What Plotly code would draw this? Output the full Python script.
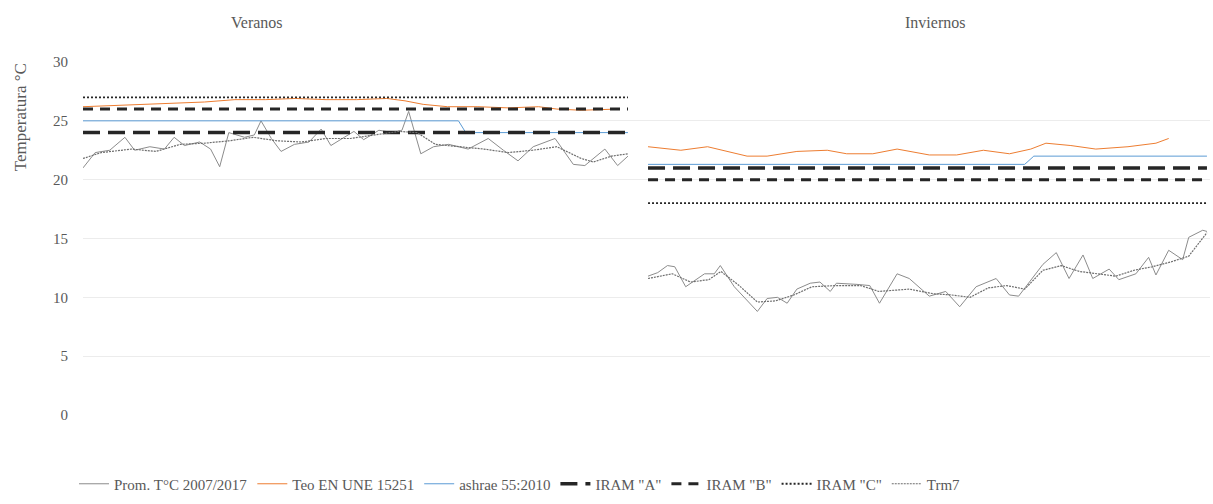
import plotly.graph_objects as go

# Day index along the shared category axis (summer block, then winter block)
summer_prom_days = [0, 2, 4.4, 6.9, 8.5, 11, 13.4, 15, 16.7, 19.2, 21, 22.5, 24, 26.6, 28.2, 29.3,
                    31, 32.6, 34.8, 37.2, 39.2, 40.8, 43, 44.6, 46.2, 48.7, 51.1, 52.5, 53.6, 55.6,
                    57.7, 60.2, 63.4, 66.7, 69.2, 71.6, 74.1, 77.7, 80.7, 82.6, 85.9, 88, 89.7]
summer_prom = [21.0, 22.3, 22.5, 23.6, 22.5, 22.8, 22.6, 23.6, 22.9, 23.2, 22.6, 21.1, 24.0, 23.6,
               23.8, 25.0, 23.5, 22.4, 23.0, 23.2, 24.3, 22.9, 23.6, 24.1, 23.4, 24.2, 24.0, 24.2,
               25.8, 22.2, 22.8, 23.0, 22.6, 23.5, 22.5, 21.6, 22.8, 23.5, 21.3, 21.2, 22.6, 21.2, 22.0]

summer_trm7_days = [0, 3, 8, 12, 16, 20, 24, 28, 32, 36, 40, 44, 48, 52, 55, 58, 62, 66, 70, 74,
                    78, 82, 84, 87, 89.7]
summer_trm7 = [21.8, 22.3, 22.6, 22.4, 23.0, 23.1, 23.3, 23.6, 23.3, 23.2, 23.5, 23.5, 23.8, 24.1,
               24.0, 23.0, 22.8, 22.6, 22.3, 22.5, 22.8, 21.8, 21.5, 22.0, 22.2]

summer_teo_days = [0, 5, 10, 15, 20, 25, 30, 35, 40, 45, 50, 53, 56, 60, 65, 70, 75, 78, 82, 88]
summer_teo = [26.2, 26.3, 26.4, 26.5, 26.6, 26.8, 26.8, 26.9, 26.8, 26.8, 26.9, 26.7, 26.4, 26.2,
              26.2, 26.1, 26.2, 26.0, 25.9, 26.0]

summer_ashrae_days = [0, 61.8, 63, 89.7]
summer_ashrae = [25.0, 25.0, 24.0, 24.0]

winter_prom_days = [93, 94.6, 96.2, 97.4, 99.2, 102.3, 103.9, 104.9, 107.2, 109.8, 111, 112.6, 114.3,
                    115.9, 117.5, 119.7, 121.3, 123, 124, 127.4, 129.5, 131.1, 133.4, 134, 136,
                    139.3, 142, 144.3, 147, 150.3, 152.5, 154, 158, 160.2, 162.3, 164.6, 166.2,
                    168.9, 170.5, 173.3, 175.4, 176.6, 178.7, 181, 182, 184.3, 185]
winter_prom = [11.8, 12.1, 12.7, 12.6, 10.9, 12.0, 12.0, 12.7, 10.9, 9.4, 8.8, 9.9, 10.0, 9.5, 10.7,
               11.2, 11.3, 10.5, 11.2, 11.1, 11.0, 9.5, 11.5, 12.0, 11.6, 10.1, 10.5, 9.2, 10.9, 11.6,
               10.2, 10.1, 12.8, 13.8, 11.6, 13.6, 11.6, 12.4, 11.5, 12.0, 13.4, 11.9, 14.0, 13.2,
               15.1, 15.7, 15.6]

winter_trm7_days = [93, 97, 100, 103, 105, 108, 111, 114, 117, 120, 124, 128, 131, 134, 136, 140,
                    143, 146, 149, 152, 155, 158, 161, 164, 167, 170, 173, 176, 179, 182, 185]
winter_trm7 = [11.6, 12.0, 11.3, 11.5, 12.2, 11.0, 9.6, 9.7, 10.2, 10.9, 11.0, 11.0, 10.5, 10.6,
               10.7, 10.3, 10.2, 10.0, 10.8, 11.0, 10.7, 12.3, 12.7, 12.2, 12.0, 11.8, 12.3, 12.6,
               13.0, 13.5, 15.5]

winter_teo_days = [93, 98.4, 102.8, 109.3, 112.6, 117.5, 122.5, 125.7, 130, 134, 139.3, 143.8,
                   148.2, 152.5, 156, 158.5, 162.6, 166.7, 172, 176.6, 178.7]
winter_teo = [22.8, 22.5, 22.8, 22.0, 22.0, 22.4, 22.5, 22.2, 22.2, 22.6, 22.1, 22.1, 22.5, 22.2,
              22.6, 23.1, 22.9, 22.6, 22.8, 23.1, 23.5]

winter_ashrae_days = [93, 155, 156.5, 185]
winter_ashrae = [21.3, 21.3, 22.0, 22.0]

# IRAM comfort limits per season
season_span = {"summer": [0, 89.7], "winter": [93, 185]}
iram_summer = {"A": 24, "B": 26, "C": 27}
iram_winter = {"A": 21, "B": 20, "C": 18}

y_ticks = [0, 5, 10, 15, 20, 25, 30]
season_titles = ["Veranos", "Inviernos"]

SERIF = "Liberation Serif"
TEXT = "#595959"


def join(xs1, ys1, xs2, ys2):
    return list(xs1) + [None] + list(xs2), list(ys1) + [None] + list(ys2)


fig = go.Figure()

x, y = join(summer_prom_days, summer_prom, winter_prom_days, winter_prom)
fig.add_trace(go.Scatter(x=x, y=y, mode="lines", name="Prom. T°C 2007/2017",
                         line=dict(color="#8c8c8c", width=1)))

x, y = join(summer_teo_days, summer_teo, winter_teo_days, winter_teo)
fig.add_trace(go.Scatter(x=x, y=y, mode="lines", name="Teo EN UNE 15251",
                         line=dict(color="#ED7D31", width=1)))

x, y = join(summer_ashrae_days, summer_ashrae, winter_ashrae_days, winter_ashrae)
fig.add_trace(go.Scatter(x=x, y=y, mode="lines", name="ashrae 55:2010",
                         line=dict(color="#5B9BD5", width=1)))

iram_styles = {
    "A": dict(color="#262626", width=3.5, dash="17px,8px"),
    "B": dict(color="#262626", width=3, dash="10px,7px"),
    "C": dict(color="#262626", width=1.8, dash="2px,2px"),
}
for key in ["A", "B", "C"]:
    xs1 = season_span["summer"]
    xs2 = season_span["winter"]
    x, y = join(xs1, [iram_summer[key]] * 2, xs2, [iram_winter[key]] * 2)
    fig.add_trace(go.Scatter(x=x, y=y, mode="lines", name=f'IRAM "{key}"',
                             line=iram_styles[key]))

x, y = join(summer_trm7_days, summer_trm7, winter_trm7_days, winter_trm7)
fig.add_trace(go.Scatter(x=x, y=y, mode="lines", name="Trm7",
                         line=dict(color="#6e6e6e", width=1.2, dash="2px,1px")))

L, R, T, B = 83, 3, 62, 84
W, H = 1213, 504
plot_w = W - L - R
plot_h = H - T - B


def px_to_paper(px, py):
    return (px - L) / plot_w, (H - B - py) / plot_h


annotations = []
for title, cx in zip(season_titles, [257, 935]):
    ax, ay = px_to_paper(cx, 22)
    annotations.append(dict(text=title, x=ax, y=ay, xref="paper", yref="paper",
                            showarrow=False, xanchor="center", yanchor="middle",
                            font=dict(family=SERIF, size=16, color=TEXT)))
ax, ay = px_to_paper(20, 118)
annotations.append(dict(text="Temperatura °C", x=ax, y=ay, xref="paper", yref="paper",
                        showarrow=False, textangle=-90, xanchor="center", yanchor="middle",
                        font=dict(family=SERIF, size=17, color=TEXT)))

lx, _ = px_to_paper(520, 0)
_, ly = px_to_paper(0, 490)
fig.update_layout(
    width=W, height=H,
    margin=dict(l=L, r=R, t=T, b=B),
    paper_bgcolor="white", plot_bgcolor="white",
    showlegend=True,
    legend=dict(orientation="h", x=lx, xanchor="center", y=ly, yanchor="middle",
                font=dict(family=SERIF, size=15, color=TEXT), itemwidth=30,
                tracegroupgap=0),
    xaxis=dict(range=[0, 185.5], showgrid=False, showticklabels=False, zeroline=False,
               showline=False, ticks=""),
    yaxis=dict(range=[0, 30], tickvals=y_ticks, showgrid=True, gridcolor="#ececec",
               gridwidth=1, zeroline=False, showline=False, ticks="",
               tickfont=dict(family=SERIF, size=15, color=TEXT), ticklabelstandoff=14),
    annotations=annotations,
)

fig.write_html("out.html")
